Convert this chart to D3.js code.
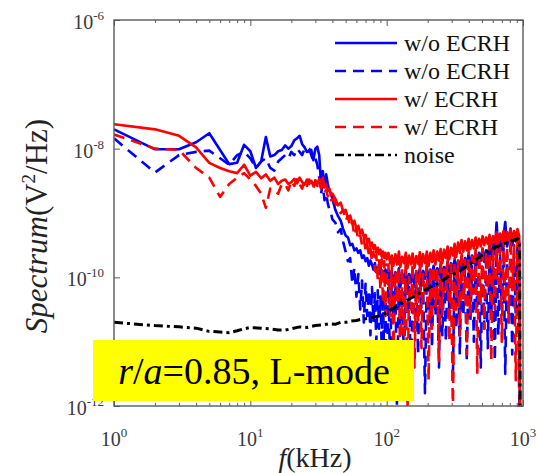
<!DOCTYPE html>
<html>
<head>
<meta charset="utf-8">
<script src="https://cdn.jsdelivr.net/npm/d3@7/dist/d3.min.js"></script>
<style>
  body { margin: 0; background: #fff; }
  svg { display: block; }
</style>
</head>
<body>
<script>
// frequency axis of the spectra (kHz)
const freqs = [
  1, 2, 3, 4, 5, 6, 7, 8, 9, 10, 11, 12, 13, 14, 15, 16, 17, 18, 19, 20,
  21, 22, 23, 24, 25, 26, 27, 28, 29, 30, 31, 32, 33, 34, 35, 36, 37, 38, 39, 40,
  42, 44, 46, 48, 50, 52, 54, 56, 58, 60, 62, 64, 66, 68, 70, 72, 74, 76, 78, 80,
  82, 84, 86, 88, 90, 92, 94, 96, 98, 100,
  103, 106, 109, 112, 116, 119, 123, 126, 130, 134,
  138, 142, 146, 151, 155, 160, 165, 170, 175, 180,
  185, 191, 197, 203, 209, 215, 221, 228, 235, 242,
  249, 256, 264, 272, 280, 288, 297, 306, 315, 324,
  334, 344, 354, 365, 376, 387, 399, 411, 423, 436,
  449, 462, 476, 490, 505, 520, 536, 552, 568, 585,
  603, 621, 640, 659, 679, 699, 720, 741, 764, 786,
  810, 834, 859, 885, 911, 938, 952, 968, 984, 1000,
];

// log10 of spectrum (V^2/Hz)
const woSolid = [
  -7.70, -8.01, -8.01, -7.90, -7.76, -8.02, -8.24, -8.22, -7.94, -8.04,
  -8.30, -8.20, -7.82, -8.12, -8.10, -8.04, -8.02, -7.95, -8.00, -7.96,
  -7.87, -7.84, -7.80, -7.93, -7.98, -8.05, -8.04, -8.02, -8.18, -8.00,
  -7.97, -8.10, -8.55, -8.35, -8.60, -8.40, -8.55, -8.65, -8.70, -8.78,
  -8.95, -9.05, -9.12, -9.25, -9.35, -9.38, -9.50, -9.48, -9.58, -9.55,
  -9.62, -9.58, -9.70, -9.66, -9.75, -9.70, -9.82, -9.74, -9.80, -9.88,
  -9.78, -9.92, -9.85, -9.95, -9.84, -9.98, -9.90, -10.02, -9.88, -9.96,
  -9.88, -10.05, -9.90, -10.12, -9.92, -10.06, -9.86, -10.15, -9.94, -10.04,
  -9.90, -10.18, -9.95, -10.08, -9.88, -10.14, -9.92, -10.06, -9.86, -10.10,
  -9.90, -10.02, -9.84, -10.08, -9.88, -9.98, -9.82, -10.04, -9.86, -9.96,
  -9.80, -10.00, -9.84, -9.94, -9.76, -9.96, -9.78, -9.90, -9.72, -9.92,
  -9.74, -9.86, -9.68, -9.88, -9.70, -9.82, -9.64, -9.84, -9.66, -9.78,
  -9.60, -9.80, -9.62, -9.74, -9.56, -9.76, -9.58, -9.70, -9.50, -9.72,
  -9.48, -9.64, -9.15, -9.60, -9.42, -9.58, -9.36, -9.14, -9.52, -9.40,
  -9.24, -9.50, -9.34, -9.44, -9.30, -9.46, -12.6, -12.8, -12.8, -12.8,
];

const woDashed = [
  -7.84, -8.37, -8.10, -8.05, -8.03, -8.15, -8.25, -8.10, -8.05, -8.15,
  -8.30, -8.20, -8.15, -8.30, -8.34, -8.20, -8.15, -8.10, -8.15, -8.05,
  -8.10, -8.00, -8.05, -8.10, -8.00, -7.98, -8.00, -8.10, -8.20, -8.15,
  -8.25, -8.45, -8.70, -8.55, -8.80, -8.70, -8.85, -8.95, -9.00, -9.10,
  -9.15, -9.30, -9.25, -9.45, -9.60, -9.75, -9.70, -10.10, -9.85, -10.30,
  -9.95, -10.50, -10.05, -10.70, -10.10, -10.60, -10.20, -10.90, -10.15, -10.70,
  -10.25, -11.00, -10.20, -10.80, -10.30, -11.10, -10.25, -11.40, -10.35, -11.90,
  -10.00, -11.50, -9.95, -10.70, -10.10, -12.00, -9.98, -10.90, -10.20, -11.30,
  -9.95, -10.60, -10.15, -11.70, -9.92, -10.80, -10.10, -11.20, -9.90, -10.50,
  -10.05, -11.80, -9.88, -10.70, -10.00, -11.10, -9.85, -10.60, -10.00, -11.40,
  -9.82, -10.90, -9.95, -11.00, -9.80, -10.50, -9.92, -11.60, -9.78, -10.80,
  -9.90, -11.20, -9.75, -10.60, -9.85, -11.30, -9.72, -10.70, -9.82, -11.00,
  -9.70, -10.50, -9.78, -11.40, -9.65, -10.80, -9.75, -11.10, -9.62, -10.60,
  -9.70, -11.30, -9.58, -10.90, -9.65, -10.50, -9.55, -11.50, -9.62, -10.70,
  -9.52, -11.20, -9.58, -10.60, -9.50, -11.80, -12.6, -12.8, -12.8, -12.8,
];

const wSolid = [
  -7.62, -7.70, -7.80, -7.98, -8.22, -8.30, -8.35, -8.38, -8.25, -8.42,
  -8.36, -8.46, -8.40, -8.50, -8.45, -8.55, -8.50, -8.48, -8.55, -8.52,
  -8.47, -8.54, -8.45, -8.52, -8.56, -8.48, -8.55, -8.50, -8.58, -8.49,
  -8.55, -8.47, -8.52, -8.45, -8.60, -8.56, -8.66, -8.62, -8.72, -8.70,
  -8.78, -8.88, -8.84, -8.98, -8.95, -9.08, -9.04, -9.16, -9.12, -9.25,
  -9.20, -9.32, -9.26, -9.38, -9.34, -9.45, -9.40, -9.52, -9.46, -9.56,
  -9.50, -9.62, -9.54, -9.64, -9.57, -9.68, -9.60, -9.70, -9.62, -9.72,
  -9.62, -9.78, -9.66, -9.82, -9.64, -9.80, -9.60, -9.84, -9.68, -9.78,
  -9.62, -9.86, -9.66, -9.80, -9.63, -9.85, -9.67, -9.79, -9.61, -9.83,
  -9.64, -9.78, -9.60, -9.82, -9.62, -9.76, -9.58, -9.80, -9.60, -9.74,
  -9.56, -9.78, -9.57, -9.70, -9.52, -9.72, -9.54, -9.66, -9.48, -9.68,
  -9.46, -9.62, -9.42, -9.60, -9.44, -9.58, -9.40, -9.56, -9.42, -9.55,
  -9.38, -9.54, -9.40, -9.52, -9.36, -9.50, -9.38, -9.48, -9.34, -9.50,
  -9.36, -9.46, -9.30, -9.48, -9.32, -9.44, -9.28, -9.46, -9.30, -9.42,
  -9.26, -9.44, -9.28, -9.40, -9.25, -9.36, -12.6, -12.8, -12.8, -12.8,
];

const wDashed = [
  -7.78, -8.00, -8.02, -8.30, -8.45, -8.75, -8.55, -8.45, -8.38, -8.48,
  -8.58, -8.70, -8.92, -8.62, -8.66, -8.70, -8.55, -8.55, -8.65, -8.50,
  -8.58, -8.46, -8.55, -8.62, -8.50, -8.58, -8.48, -8.56, -8.62, -8.52,
  -8.58, -8.50, -8.62, -8.56, -8.68, -8.64, -8.74, -8.70, -8.80, -8.78,
  -8.85, -8.95, -9.00, -8.95, -9.12, -9.05, -9.22, -9.15, -9.35, -9.25,
  -9.42, -9.35, -9.50, -9.40, -9.58, -9.48, -9.65, -9.55, -9.75, -9.60,
  -9.90, -9.65, -10.05, -9.70, -10.20, -9.72, -10.40, -9.75, -10.60, -9.80,
  -9.80, -10.60, -9.75, -11.20, -9.90, -10.40, -9.70, -11.80, -9.85, -10.90,
  -9.72, -12.20, -10.00, -10.50, -9.78, -11.40, -9.88, -10.70, -9.70, -11.10,
  -9.95, -10.30, -9.72, -11.60, -9.85, -10.80, -9.68, -10.45, -9.90, -11.30,
  -9.70, -10.60, -9.82, -10.20, -9.66, -11.00, -9.80, -12.10, -9.62, -10.50,
  -9.75, -10.90, -9.58, -10.35, -9.70, -11.20, -9.55, -10.60, -9.68, -10.25,
  -9.52, -11.50, -9.62, -10.40, -9.50, -10.80, -9.60, -10.20, -9.48, -11.30,
  -9.58, -10.50, -9.45, -10.10, -9.55, -11.00, -9.42, -10.40, -9.52, -10.70,
  -9.40, -10.20, -9.50, -11.60, -9.42, -10.30, -12.6, -12.8, -12.8, -12.8,
];

// noise floor has its own (sparser) frequency grid
const noiseFreqs = [
  1, 2, 3, 4, 5, 6, 7, 8, 9, 10, 12, 14, 16, 18, 20, 23, 26, 30, 34, 38,
  42, 46, 50, 55, 60, 66, 72, 80, 88, 96, 105, 115, 125, 140, 155, 170, 190, 210, 235, 260,
  290, 320, 350, 390, 430, 480, 530, 590, 650, 720, 790, 860, 920, 945, 955, 970, 1000,
];
const noise = [
  -10.70, -10.75, -10.77, -10.79, -10.84, -10.85, -10.86, -10.83, -10.80, -10.78,
  -10.79, -10.80, -10.82, -10.82, -10.80, -10.77, -10.78, -10.75, -10.74, -10.72,
  -10.73, -10.70, -10.70, -10.68, -10.67, -10.65, -10.64, -10.62, -10.60, -10.57,
  -10.52, -10.46, -10.42, -10.36, -10.31, -10.26, -10.20, -10.15, -10.10, -10.04,
  -9.98, -9.93, -9.89, -9.82, -9.76, -9.68, -9.62, -9.56, -9.52, -9.48,
  -9.45, -9.42, -9.40, -9.44, -12.6, -12.8, -12.8,
];

const legendLabels = ['w/o ECRH', 'w/o ECRH', 'w/ ECRH', 'w/ ECRH', 'noise'];
const xMajor = [0, 1, 2, 3];
const yMajor = [-6, -8, -10, -12];

const fontNames = ['Liberation Serif'];

function serifText(parent) {
  return parent.append('text')
    .style('font-family', `"${fontNames[0]}"`);
}

function main() {
  const width = 537;
  const height = 473;
  const left = 114, right = 523, top = 20, bottom = 406;

  const svg = d3.select('body').append('svg')
    .attr('width', width)
    .attr('height', height);

  const x = d3.scaleLog().domain([1, 1000]).range([left, right]);
  const y = d3.scaleLog().domain([1e-12, 1e-6]).range([bottom, top]);

  svg.append('clipPath').attr('id', 'plot')
    .append('rect')
    .attr('x', left).attr('y', top)
    .attr('width', right - left).attr('height', bottom - top);

  const series = [
    { f: freqs, v: woSolid, color: '#0000ff', dash: null, w: 2.6 },
    { f: freqs, v: woDashed, color: '#0000ff', dash: '11,7', w: 2.6 },
    { f: freqs, v: wSolid, color: '#ff0000', dash: null, w: 2.6 },
    { f: freqs, v: wDashed, color: '#ff0000', dash: '11,7', w: 2.6 },
    { f: noiseFreqs, v: noise, color: '#000000', dash: '9,4,3,4', w: 3 },
  ];

  const line = d3.line()
    .x(d => x(d[0]))
    .y(d => y(Math.pow(10, d[1])));

  svg.append('g')
    .attr('clip-path', 'url(#plot)')
    .selectAll('path')
    .data(series)
    .enter()
    .append('path')
    .attr('d', s => line(s.f.map((f, i) => [f, s.v[i]])))
    .attr('fill', 'none')
    .attr('stroke', s => s.color)
    .attr('stroke-width', s => s.w)
    .attr('stroke-linejoin', 'round')
    .attr('stroke-dasharray', s => s.dash);

  // axes: box with inward ticks
  const axisColor = '#5a5a5a';
  const majorX = xMajor.map(e => Math.pow(10, e));
  const minor = x.ticks().filter(t => !majorX.includes(t));
  const majorY = yMajor.map(e => Math.pow(10, e));

  const axes = [
    svg.append('g').attr('transform', `translate(0,${bottom})`).call(d3.axisBottom(x).tickValues(minor).tickSize(-3).tickFormat('')),
    svg.append('g').attr('transform', `translate(0,${bottom})`).call(d3.axisBottom(x).tickValues(majorX).tickSize(-6).tickFormat('')),
    svg.append('g').attr('transform', `translate(0,${top})`).call(d3.axisTop(x).tickValues(minor).tickSize(-3).tickFormat('')),
    svg.append('g').attr('transform', `translate(0,${top})`).call(d3.axisTop(x).tickValues(majorX).tickSize(-6).tickFormat('')),
    svg.append('g').attr('transform', `translate(${left},0)`).call(d3.axisLeft(y).tickValues(majorY).tickSize(-6).tickFormat('')),
    svg.append('g').attr('transform', `translate(${right},0)`).call(d3.axisRight(y).tickValues(majorY).tickSize(-6).tickFormat('')),
  ];
  axes.forEach(g => {
    g.select('.domain').remove();
    g.selectAll('line').attr('stroke', axisColor).attr('stroke-width', 1);
  });

  svg.append('rect')
    .attr('x', left).attr('y', top)
    .attr('width', right - left).attr('height', bottom - top)
    .attr('fill', 'none')
    .attr('stroke', axisColor)
    .attr('stroke-width', 1.4);

  // tick labels 10^n
  const labelColor = '#3a3a3a';
  xMajor.forEach(e => {
    const t = serifText(svg)
      .attr('x', x(Math.pow(10, e)))
      .attr('y', 446)
      .attr('text-anchor', 'middle')
      .attr('fill', labelColor)
      .attr('font-size', 20);
    t.append('tspan').text('10');
    t.append('tspan').attr('dy', -9).attr('font-size', 13).text(e);
  });
  yMajor.forEach(e => {
    const t = serifText(svg)
      .attr('x', 104)
      .attr('y', y(Math.pow(10, e)) + 9)
      .attr('text-anchor', 'end')
      .attr('fill', labelColor)
      .attr('font-size', 20);
    t.append('tspan').text('10');
    t.append('tspan').attr('dy', -9).attr('font-size', 13).text(e);
  });

  // axis titles
  const xt = serifText(svg)
    .attr('x', 315).attr('y', 467)
    .attr('text-anchor', 'middle')
    .attr('font-size', 28)
    .attr('fill', '#222');
  xt.append('tspan').attr('font-style', 'italic').text('f');
  xt.append('tspan').text('(kHz)');

  const yt = serifText(svg)
    .attr('transform', 'translate(47,226) rotate(-90)')
    .attr('text-anchor', 'middle')
    .attr('font-size', 31)
    .attr('fill', '#222');
  yt.append('tspan').attr('font-style', 'italic').text('Spectrum');
  yt.append('tspan').text('(V');
  yt.append('tspan').attr('dy', -12).attr('font-size', 19).text('2');
  yt.append('tspan').attr('dy', 12).text('/Hz)');

  // legend
  const legend = svg.append('g');
  const rowY = [43, 71, 99, 127, 155];
  series.forEach((s, i) => {
    legend.append('line')
      .attr('x1', 335).attr('x2', 397)
      .attr('y1', rowY[i]).attr('y2', rowY[i])
      .attr('stroke', s.color)
      .attr('stroke-width', 2.6)
      .attr('stroke-dasharray', s.dash);
    serifText(legend)
      .attr('x', 404)
      .attr('y', rowY[i] + 8)
      .attr('font-size', 24)
      .attr('fill', '#111')
      .text(legendLabels[i]);
  });

  // annotation box
  svg.append('rect')
    .attr('x', 93).attr('y', 340)
    .attr('width', 321).attr('height', 61)
    .attr('fill', '#ffff00');
  const note = serifText(svg)
    .attr('x', 254).attr('y', 384)
    .attr('text-anchor', 'middle')
    .attr('font-size', 38)
    .attr('fill', '#000');
  note.append('tspan').attr('font-style', 'italic').text('r');
  note.append('tspan').text('/');
  note.append('tspan').attr('font-style', 'italic').text('a');
  note.append('tspan').text('=0.85, L-mode');
}

main();
</script>
</body>
</html>
